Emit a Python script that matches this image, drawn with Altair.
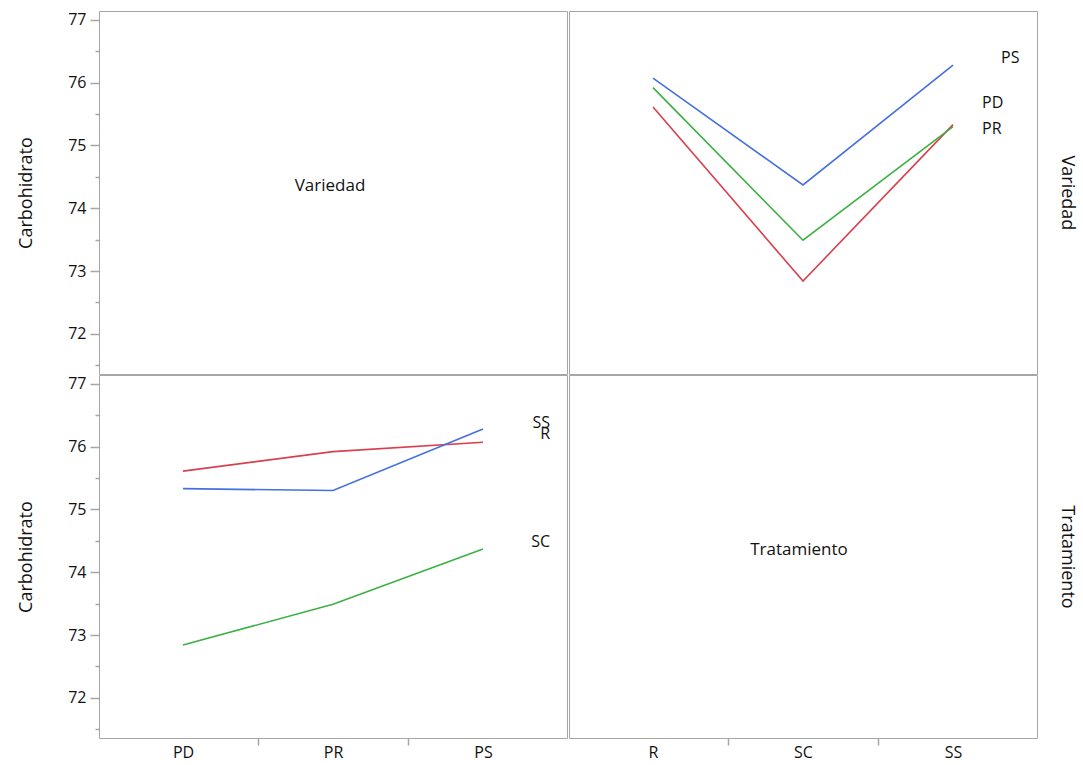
import altair as alt
import pandas as pd

# ---- data ----
variedades = ["PD", "PR", "PS"]
tratamientos = ["R", "SC", "SS"]
# mean Carbohidrato, per variedad, in tratamiento order R, SC, SS
carb_PD = [75.61, 72.84, 75.33]
carb_PR = [75.92, 73.49, 75.30]
carb_PS = [76.07, 74.37, 76.28]

# end-of-line label heights (data units) as placed in the reference
var_label_names = ["PS", "PD", "PR"]
var_label_y = [76.39, 75.68, 75.26]
trat_label_names = ["SS", "R", "SC"]
trat_label_y = [76.38, 76.20, 74.48]

y_ticks = [71.5, 72, 72.5, 73, 73.5, 74, 74.5, 75, 75.5, 76, 76.5, 77]
y_domain = [71.36, 77.14]
x_domain = [-0.56, 2.56]

# ---- styling ----
RED, GREEN, BLUE = "#D8404E", "#3DB043", "#4470E0"
FRAME = "#A6A6A6"
FONT = "Open Sans"
W, H = 468, 363

carb = {"PD": carb_PD, "PR": carb_PR, "PS": carb_PS}
rows = []
for vi, v in enumerate(variedades):
    for ti, t in enumerate(tratamientos):
        rows.append({"Variedad": v, "Tratamiento": t, "vi": vi, "ti": ti,
                     "Carbohidrato": carb[v][ti]})
df = pd.DataFrame(rows)

y_left_axis = alt.Axis(
    values=y_ticks, format=".0f", title="Carbohidrato", grid=False, domain=False,
    tickSize={"condition": {"test": "datum.value % 1 === 0", "value": 9}, "value": 4},
    labelExpr="datum.value % 1 === 0 ? datum.label : ''",
    tickColor=FRAME, tickWidth=1.5, labelPadding=4, titlePadding=32,
    labelFontSize=16, titleFontSize=18, labelColor="#111", titleColor="#111",
    titleFontWeight="normal", labelFont=FONT, titleFont=FONT)


def y_right_axis(title):
    return alt.Axis(orient="right", title=title, labels=False, ticks=False,
                    domain=False, grid=False, titlePadding=20, titleFontSize=18,
                    titleFontWeight="normal", titleColor="#111", titleFont=FONT)


def x_axis(names):
    expr = "[" + ",".join("'%s'" % n for n in names) + "][datum.value]"
    return alt.Axis(
        values=[0, 0.5, 1, 1.5, 2], title=None, grid=False, domain=False,
        tickSize={"condition": {"test": "datum.value % 1 === 0", "value": 0}, "value": 7},
        labelExpr="datum.value % 1 === 0 ? " + expr + " : ''",
        tickColor=FRAME, tickWidth=1.5, labelPadding=6, labelFontSize=16,
        labelColor="#111", labelFont=FONT)


xs = alt.Scale(domain=x_domain, nice=False, zero=False)
ys = alt.Scale(domain=y_domain, nice=False, zero=False)

# ---- top-left: label only ----
top_left = alt.Chart(pd.DataFrame({"t": ["Variedad"]})).mark_text(
    fontSize=17, font=FONT, color="#111", dy=-7, dx=-3
).encode(
    x=alt.X("xd:Q", scale=xs, axis=None),
    y=alt.Y("yd:Q", scale=ys, axis=y_left_axis),
    text="t:N",
).transform_calculate(xd="1", yd=str(sum(y_domain) / 2)).properties(width=W, height=H)

# ---- top-right: lines by Variedad over Tratamiento ----
tr_yaxis = y_right_axis("Variedad")
tr_lines = alt.Chart(df).mark_line(strokeWidth=1.6).encode(
    x=alt.X("ti:Q", scale=xs, axis=None),
    y=alt.Y("Carbohidrato:Q", scale=ys, axis=tr_yaxis),
    color=alt.Color("Variedad:N", scale=alt.Scale(domain=variedades, range=[RED, GREEN, BLUE]),
                    legend=None),
    order="ti:Q",
)
var_lab_df = pd.DataFrame({"lab": var_label_names, "y": var_label_y, "x": [2] * 3})
var_dx = {"PS": 48, "PD": 29, "PR": 29}
tr_texts = [
    alt.Chart(var_lab_df[var_lab_df.lab == n]).mark_text(
        align="left", fontSize=16, font=FONT, color="#111", dx=var_dx[n]
    ).encode(x=alt.X("x:Q", scale=xs, axis=None),
             y=alt.Y("y:Q", scale=ys, axis=tr_yaxis), text="lab:N")
    for n in var_label_names
]
top_right = alt.layer(tr_lines, *tr_texts).properties(width=W, height=H)

# ---- bottom-left: lines by Tratamiento over Variedad ----
bl_xaxis = x_axis(variedades)
bl_lines = alt.Chart(df).mark_line(strokeWidth=1.6).encode(
    x=alt.X("vi:Q", scale=xs, axis=bl_xaxis),
    y=alt.Y("Carbohidrato:Q", scale=ys, axis=y_left_axis),
    color=alt.Color("Tratamiento:N", scale=alt.Scale(domain=tratamientos, range=[RED, GREEN, BLUE]),
                    legend=None),
    order="vi:Q",
)
trat_lab_df = pd.DataFrame({"lab": trat_label_names, "y": trat_label_y, "x": [2] * 3})
bl_text = alt.Chart(trat_lab_df).mark_text(
    align="right", fontSize=16, font=FONT, color="#111", dx=67
).encode(x=alt.X("x:Q", scale=xs, axis=bl_xaxis),
         y=alt.Y("y:Q", scale=ys, axis=y_left_axis), text="lab:N")
bottom_left = alt.layer(bl_lines, bl_text).properties(width=W, height=H)

# ---- bottom-right: label only ----
bottom_right = alt.Chart(pd.DataFrame({"t": ["Tratamiento"]})).mark_text(
    fontSize=17, font=FONT, color="#111", dy=-7, dx=-4
).encode(
    x=alt.X("xd:Q", scale=xs, axis=x_axis(tratamientos)),
    y=alt.Y("yd:Q", scale=ys, axis=y_right_axis("Tratamiento")),
    text="t:N",
).transform_calculate(xd="1", yd=str(sum(y_domain) / 2)).properties(width=W, height=H)

chart = alt.vconcat(
    alt.hconcat(top_left, top_right, spacing=0),
    alt.hconcat(bottom_left, bottom_right, spacing=0),
    spacing=-3,
).properties(
    padding={"left": 17, "top": 10, "right": 5, "bottom": 5},
    background="white",
).configure_view(
    stroke=FRAME, strokeWidth=1
).configure_concat(spacing=0)

chart.save("out.html", embed_options={"renderer": "svg", "actions": False})
